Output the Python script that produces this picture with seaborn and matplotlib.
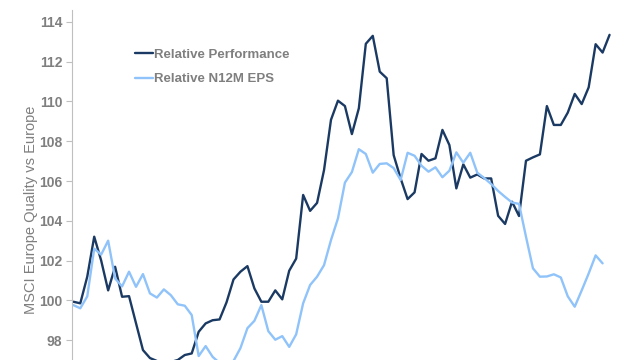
import pandas as pd
import matplotlib
matplotlib.use("Agg")
import matplotlib.pyplot as plt
import seaborn as sns

# Relative performance of MSCI Europe Quality vs MSCI Europe (rebased 100)
rel_perf = [99.93, 99.85, 101.19, 103.2, 102.0, 100.5, 101.69, 100.18, 100.21, 98.85,
            97.5, 97.1, 96.95, 96.85, 96.9, 97.0, 97.25, 97.33, 98.42, 98.84,
            99.0, 99.04, 99.9, 101.05, 101.44, 101.72, 100.6, 99.93, 99.93, 100.5,
            100.05, 101.49, 102.1, 105.3, 104.5, 104.9, 106.55, 109.08, 110.04, 109.77,
            108.36, 109.66, 112.9, 113.3, 111.5, 111.17, 107.3, 106.13, 105.09, 105.43,
            107.36, 107.02, 107.14, 108.57, 107.81, 105.63, 106.84, 106.17, 106.33, 106.13,
            106.13, 104.25, 103.84, 104.96, 104.24, 107.02, 107.19, 107.34, 109.77, 108.82,
            108.82, 109.44, 110.38, 109.87, 110.71, 112.88, 112.46, 113.35]

rel_eps = [99.76, 99.6, 100.2, 102.6, 102.3, 103.0, 101.1, 100.7, 101.44, 100.68,
           101.32, 100.35, 100.14, 100.55, 100.26, 99.8, 99.73, 99.26, 97.2, 97.7,
           97.16, 96.85, 96.75, 96.95, 97.6, 98.6, 98.97, 99.76, 98.45, 98.02,
           98.2, 97.66, 98.29, 99.85, 100.77, 101.19, 101.77, 103.03, 104.12, 105.92,
           106.45, 107.6, 107.36, 106.42, 106.86, 106.89, 106.65, 106.05, 107.42, 107.27,
           106.77, 106.47, 106.69, 106.19, 106.52, 107.44, 106.92, 107.42, 106.42, 106.15,
           105.85, 105.5, 105.2, 104.92, 104.85, 103.2, 101.61, 101.19, 101.2, 101.31,
           101.15, 100.2, 99.68, 100.5, 101.35, 102.26, 101.86]

y_ticks = [98, 100, 102, 104, 106, 108, 110, 112, 114]

perf_df = pd.DataFrame({"t": range(len(rel_perf)), "v": rel_perf})
eps_df = pd.DataFrame({"t": range(len(rel_eps)), "v": rel_eps})

sns.set_style("white")
plt.rcParams["font.family"] = ["Liberation Sans", "DejaVu Sans"]

grey = "#7f7f7f"
fig = plt.figure(figsize=(6.4, 3.6), dpi=100)
ax = fig.add_axes([72 / 640, 0, 548 / 640, 350 / 360])

sns.lineplot(data=perf_df, x="t", y="v", ax=ax, color="#1b3a63", linewidth=1.7,
             label="Relative Performance")
sns.lineplot(data=eps_df, x="t", y="v", ax=ax, color="#8fc3fa", linewidth=1.7,
             label="Relative N12M EPS")

ax.set_xlim(-0.19, 78.5)
ax.set_ylim(97.0, 114.6)
ax.set_yticks(y_ticks)
ax.set_xticks([])
ax.set_xlabel("")
ax.set_ylabel("MSCI Europe Quality vs Europe", color=grey, fontsize=10.5)
ax.yaxis.set_label_coords(-0.062, 0.43)

for s in ["top", "right", "bottom"]:
    ax.spines[s].set_visible(False)
ax.spines["left"].set_color("#bfbfbf")
ax.spines["left"].set_linewidth(0.8)
ax.tick_params(axis="y", direction="out", length=4, width=0.8, color="#bfbfbf",
               pad=3, labelsize=10, labelcolor=grey, left=True)
for lab in ax.get_yticklabels():
    lab.set_fontweight("bold")

leg = ax.legend(loc="upper left", bbox_to_anchor=(0.115, 0.889), frameon=False,
                borderpad=0, borderaxespad=0, handlelength=1.35, handletextpad=0.1,
                labelspacing=0.9, prop={"size": 9.5, "weight": "bold"})
for t in leg.get_texts():
    t.set_color(grey)

fig.savefig("out.png", dpi=100)
